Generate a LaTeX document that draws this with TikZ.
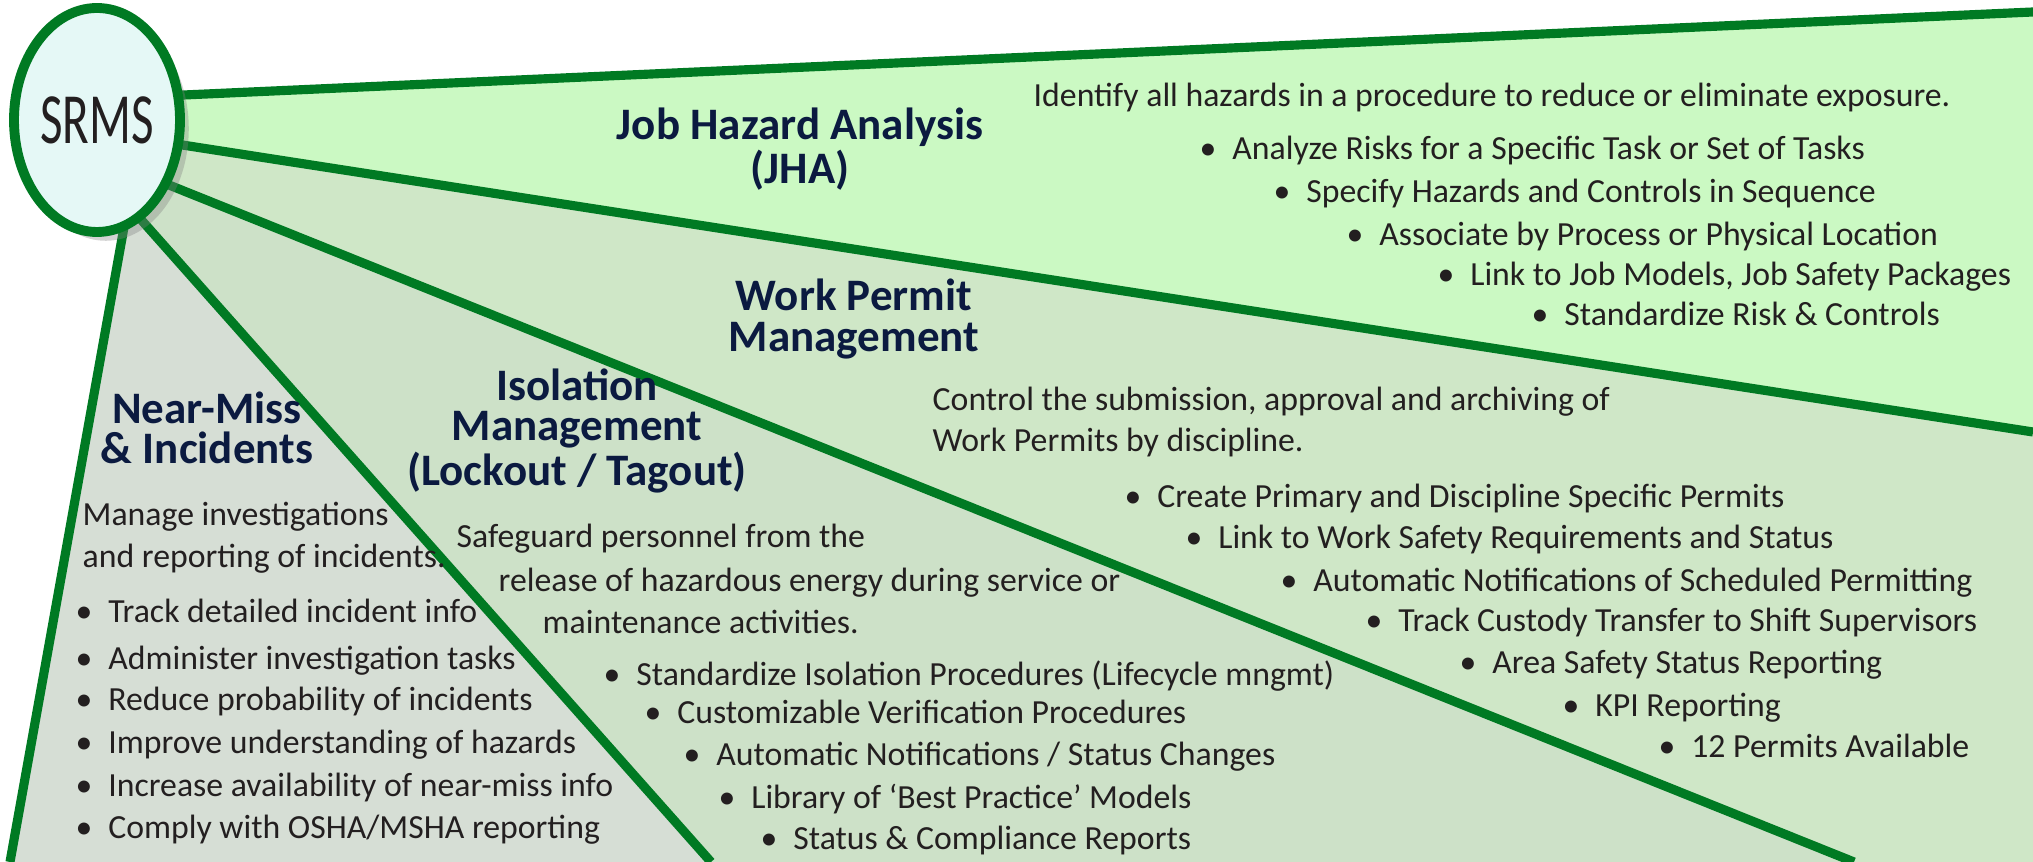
\documentclass[tikz,border=0pt]{standalone}
\usepackage{fontspec}
\setmainfont{Carlito}
\newfontfamily\srmsfont{Carlito}[FakeStretch=0.68]
\usetikzlibrary{shadows}

\definecolor{borderGreen}{HTML}{007A23}
\definecolor{jhaFill}{HTML}{CBF9C3}
\definecolor{wpFill}{HTML}{CFE7C7}
\definecolor{isoFill}{HTML}{CDE1C8}
\definecolor{nmFill}{HTML}{D6DED5}
\definecolor{hubFill}{HTML}{E5F8F6}
\definecolor{headNavy}{HTML}{0B1A40}
\definecolor{bodyGray}{HTML}{231F20}

\tikzset{
  border/.style={line width=2.6pt, draw=borderGreen},
  hubring/.style={draw=borderGreen, line width=2.8pt, fill=hubFill,
    drop shadow={shadow xshift=2.5pt, shadow yshift=-2.5pt, opacity=0.35}},
  hubtext/.style={font=\srmsfont\fontsize{20.5}{20}\selectfont, text=bodyGray, inner sep=0pt},
  heading/.style={font=\bfseries\fontsize{12.8}{11.4}\selectfont, text=headNavy,
    align=center, inner sep=0pt},
  desc/.style={font=\fontsize{9.6}{11.8}\selectfont, text=bodyGray,
    inner sep=0pt, anchor=base west}
}
\newcommand{\bul}[1]{\textbullet\hspace{4.5pt}#1}

\begin{document}
\begin{tikzpicture}[x=0.01cm, y=-0.01cm]
  \useasboundingbox (0,0) rectangle (2033,862);

  % Hub and wedge ends
  \coordinate (hub) at (97,120);
  \coordinate (a1) at (175,95.4);  \coordinate (a2) at (2033,12);
  \coordinate (b1) at (172,143.4); \coordinate (b2) at (2033,432);
  \coordinate (c1) at (160,181.4); \coordinate (c2) at (1854,862);
  \coordinate (d1) at (130,207.2); \coordinate (d2) at (711,862);
  \coordinate (e1) at (124.4,225); \coordinate (e2) at (10,862);

  % Wedges
  \fill[jhaFill] (hub) -- (a1) -- (a2) -- (b2) -- (b1) -- cycle;
  \fill[wpFill] (hub) -- (b1) -- (b2) -- (2033,862) -- (c2) -- (c1) -- cycle;
  \fill[isoFill] (hub) -- (c1) -- (c2) -- (d2) -- (d1) -- cycle;
  \fill[nmFill] (hub) -- (d1) -- (d2) -- (e2) -- (e1) -- cycle;

  % Borders
  \draw[border] (a1) -- (a2);
  \draw[border] (b1) -- (b2);
  \draw[border] (c1) -- (c2);
  \draw[border] (d1) -- (d2);
  \draw[border] (e1) -- (e2);

  % SRMS hub
  \filldraw[hubring] (hub) ellipse [x radius=83, y radius=112];
  \node[hubtext] (srms) at (hub) {SRMS};

  % Job Hazard Analysis
  \node[heading] (jha-head) at (800,149) {Job Hazard Analysis\\(JHA)};
  \node[desc] (jha-desc) at (1033,107) {Identify all hazards in a procedure to reduce or eliminate exposure.};
  \node[desc] (jha-b1) at (1199,160) {\bul{Analyze Risks for a Specific Task or Set of Tasks}};
  \node[desc] (jha-b2) at (1273,203) {\bul{Specify Hazards and Controls in Sequence}};
  \node[desc] (jha-b3) at (1346,246) {\bul{Associate by Process or Physical Location}};
  \node[desc] (jha-b4) at (1437,286) {\bul{Link to Job Models, Job Safety Packages}};
  \node[desc] (jha-b5) at (1531,326) {\bul{Standardize Risk \& Controls}};

  % Work Permit Management
  \node[heading] (wp-head) at (854,319) {Work Permit\\Management};
  \node[desc] (wp-desc1) at (932,411) {Control the submission, approval and archiving of};
  \node[desc] (wp-desc2) at (932,452) {Work Permits by discipline.};
  \node[desc] (wp-b1) at (1124,508) {\bul{Create Primary and Discipline Specific Permits}};
  \node[desc] (wp-b2) at (1185,549) {\bul{Link to Work Safety Requirements and Status}};
  \node[desc] (wp-b3) at (1280,592) {\bul{Automatic Notifications of Scheduled Permitting}};
  \node[desc] (wp-b4) at (1365,632) {\bul{Track Custody Transfer to Shift Supervisors}};
  \node[desc] (wp-b5) at (1459,674) {\bul{Area Safety Status Reporting}};
  \node[desc] (wp-b6) at (1562,717) {\bul{KPI Reporting}};
  \node[desc] (wp-b7) at (1658,758) {\bul{12 Permits Available}};

  % Isolation Management
  \node[heading] (iso-head) at (577,431) {Isolation\\Management\\(Lockout / Tagout)};
  \node[desc] (iso-desc1) at (456,548) {Safeguard personnel from the};
  \node[desc] (iso-desc2) at (498,592) {release of hazardous energy during service or};
  \node[desc] (iso-desc3) at (542,634) {maintenance activities.};
  \node[desc] (iso-b1) at (603,686) {\bul{Standardize Isolation Procedures (Lifecycle mngmt)}};
  \node[desc] (iso-b2) at (644,724) {\bul{Customizable Verification Procedures}};
  \node[desc] (iso-b3) at (683,766) {\bul{Automatic Notifications / Status Changes}};
  \node[desc] (iso-b4) at (718,809) {\bul{Library of `Best Practice' Models}};
  \node[desc] (iso-b5) at (760,850) {\bul{Status \& Compliance Reports}};

  % Near-Miss & Incidents
  \node[heading] (nm-head) at (207,428) {Near-Miss\\\& Incidents};
  \node[desc] (nm-desc1) at (82,526) {Manage investigations};
  \node[desc] (nm-desc2) at (82,568) {and reporting of incidents.};
  \node[desc] (nm-b1) at (75,623) {\bul{Track detailed incident info}};
  \node[desc] (nm-b2) at (75,670) {\bul{Administer investigation tasks}};
  \node[desc] (nm-b3) at (75,711) {\bul{Reduce probability of incidents}};
  \node[desc] (nm-b4) at (75,754) {\bul{Improve understanding of hazards}};
  \node[desc] (nm-b5) at (75,797) {\bul{Increase availability of near-miss info}};
  \node[desc] (nm-b6) at (75,839) {\bul{Comply with OSHA/MSHA reporting}};
\end{tikzpicture}
\end{document}
